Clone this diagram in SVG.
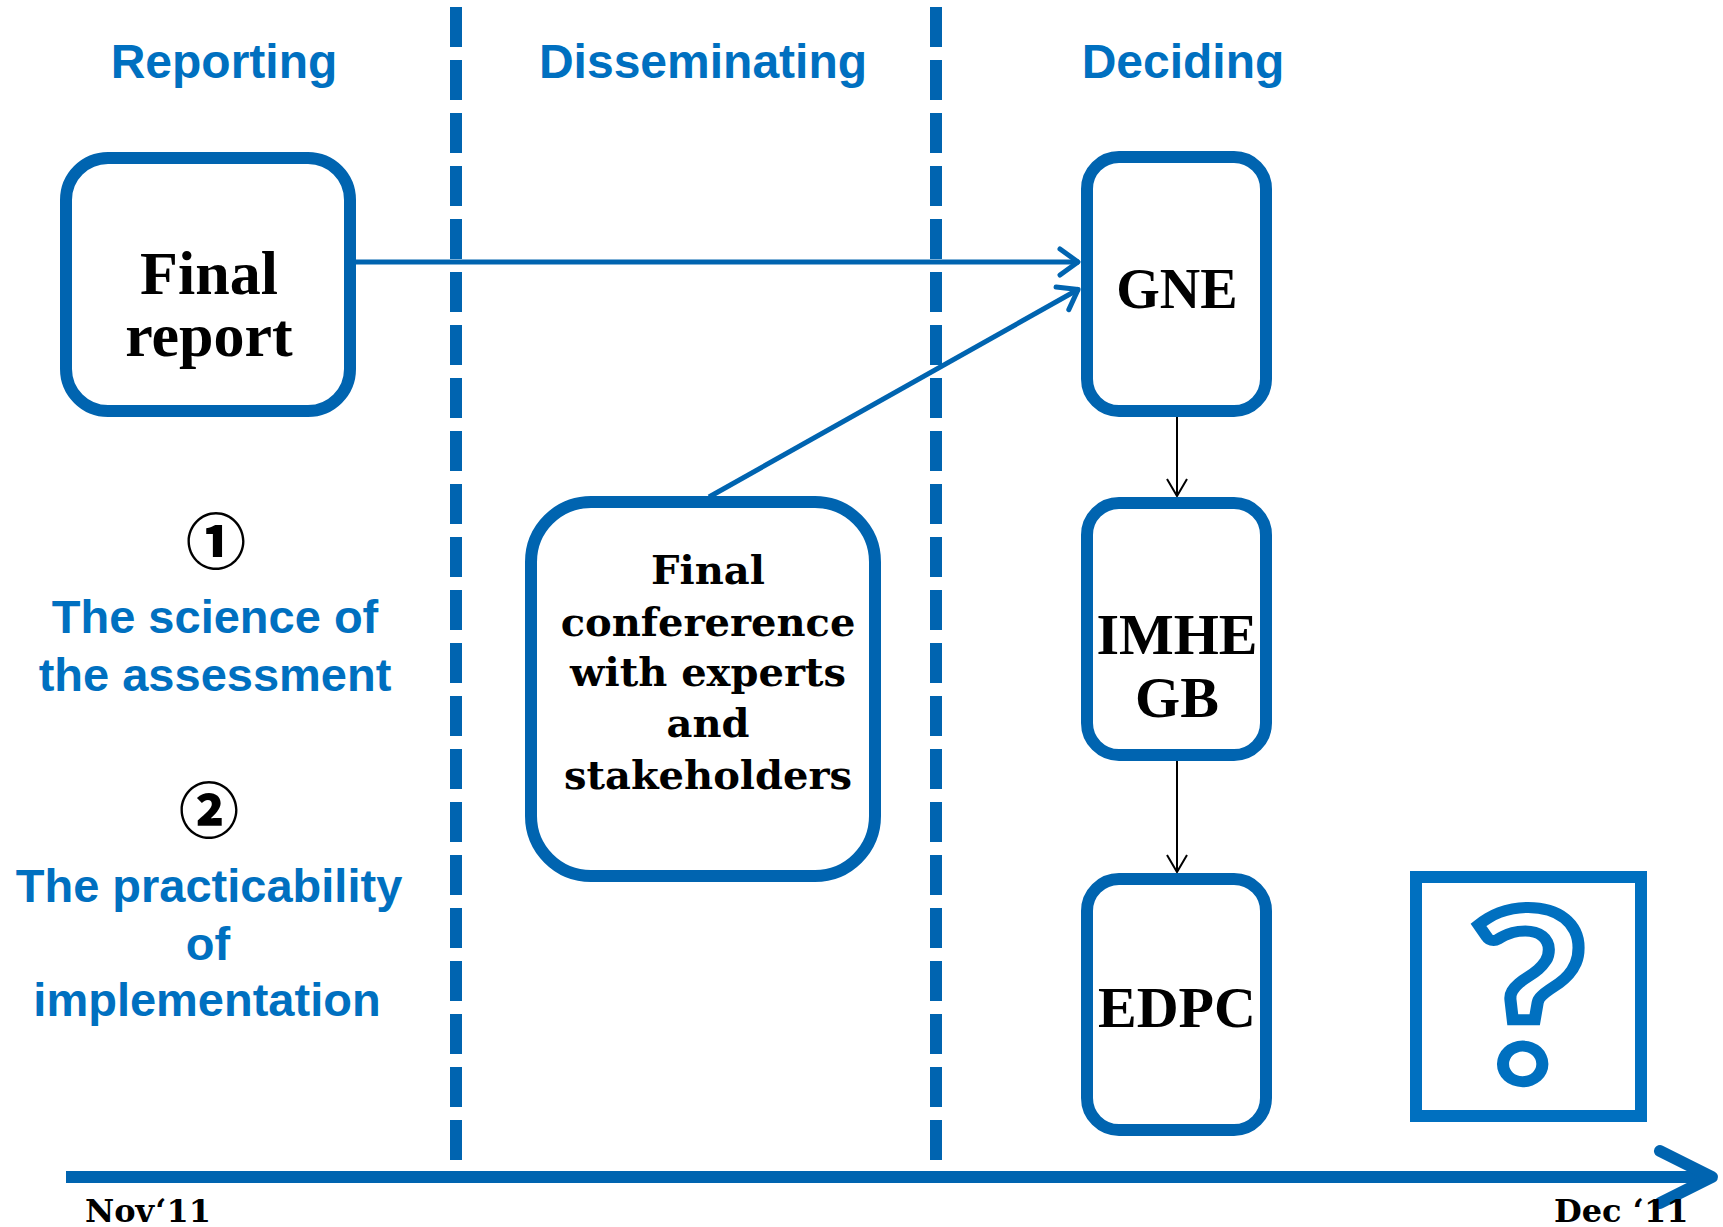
<svg xmlns="http://www.w3.org/2000/svg" width="1723" height="1227" viewBox="0 0 1723 1227">
<style>
.head{font-family:"Liberation Sans",Arial,sans-serif;font-weight:bold;font-size:48px;fill:#0070C0;text-anchor:middle}
.note{font-family:"Liberation Sans",Arial,sans-serif;font-weight:bold;font-size:47px;fill:#0070C0;text-anchor:middle}
.num{font-family:"Noto Sans CJK JP","DejaVu Sans",sans-serif;font-weight:900;font-size:60px;fill:#000;text-anchor:middle}
.box{fill:#fff;stroke:#0064B0;stroke-width:12}
.tnr{font-family:"Liberation Serif","Times New Roman",serif;font-weight:bold;fill:#000;text-anchor:middle}
.cent{font-family:"DejaVu Serif",serif;font-weight:bold;fill:#000;text-anchor:middle}
.dash{stroke:#0064B0;stroke-width:12;stroke-dasharray:40 13;fill:none}
.blue{stroke:#0064B0;stroke-width:5;fill:none}
.thin{stroke:#000;stroke-width:2;fill:none}
</style>
<defs>
<marker id="bh" markerUnits="userSpaceOnUse" markerWidth="30" markerHeight="34" refX="22" refY="15" orient="auto" viewBox="0 0 30 30">
<polyline points="3,2 21,15 3,28" fill="none" stroke="#0064B0" stroke-width="5" stroke-linecap="round" stroke-linejoin="round"/>
</marker>
<marker id="kh" markerUnits="userSpaceOnUse" markerWidth="24" markerHeight="24" refX="19" refY="12" orient="auto" viewBox="0 0 24 24">
<polyline points="2,2 19,12 2,22" fill="none" stroke="#000" stroke-width="2"/>
</marker>
</defs>
<rect width="1723" height="1227" fill="#fff"/>

<g id="headers">
<text class="head" x="224" y="78">Reporting</text>
<text class="head" x="703" y="78">Disseminating</text>
<text class="head" x="1183" y="78">Deciding</text>
</g>

<g id="separators">
<line class="dash" x1="456" y1="7" x2="456" y2="1166"/>
<line class="dash" x1="936" y1="7" x2="936" y2="1166"/>
</g>

<g id="timeline">
<line x1="66" y1="1177" x2="1708" y2="1177" stroke="#0064B0" stroke-width="12"/>
<polyline points="1660,1151 1712,1177 1660,1203" fill="none" stroke="#0064B0" stroke-width="12" stroke-linecap="round" stroke-linejoin="round"/>
<text class="cent" x="85" y="1222" font-size="32" style="text-anchor:start">Nov‘11</text>
<text class="cent" x="1554" y="1222" font-size="32" style="text-anchor:start">Dec ‘11</text>
</g>

<g id="notes">
<text class="num" x="216" y="564">①</text>
<text class="note" x="215" y="633">The science of</text>
<text class="note" x="215" y="691">the assessment</text>
<text class="num" x="209" y="833">②</text>
<text class="note" x="209" y="902">The practicability</text>
<text class="note" x="208" y="960">of</text>
<text class="note" x="207" y="1016">implementation</text>
</g>

<g id="connectors">
<line class="blue" x1="356" y1="262" x2="1079" y2="262" marker-end="url(#bh)"/>
<line class="blue" x1="709" y1="497" x2="1079" y2="289" marker-end="url(#bh)"/>
<line class="thin" x1="1177" y1="417" x2="1177" y2="496" marker-end="url(#kh)"/>
<line class="thin" x1="1177" y1="761" x2="1177" y2="872" marker-end="url(#kh)"/>
</g>

<g id="final-report">
<rect class="box" x="66" y="158" width="284" height="253" rx="42"/>
<text class="tnr" x="209" y="294" font-size="62">Final</text>
<text class="tnr" x="209" y="356" font-size="62">report</text>
</g>

<g id="final-conference">
<rect class="box" x="531" y="502" width="344" height="374" rx="60"/>
<text class="cent" x="708" y="584" font-size="40">Final</text>
<text class="cent" x="708" y="636" font-size="40">confererence</text>
<text class="cent" x="708" y="686" font-size="40">with experts</text>
<text class="cent" x="708" y="737" font-size="40">and</text>
<text class="cent" x="708" y="789" font-size="40">stakeholders</text>
</g>

<g id="gne">
<rect class="box" x="1087" y="157" width="179" height="254" rx="32"/>
<text class="tnr" x="1177" y="308" font-size="56">GNE</text>
</g>

<g id="imhe-gb">
<rect class="box" x="1087" y="503" width="179" height="252" rx="32"/>
<text class="tnr" x="1177" y="654" font-size="58">IMHE</text>
<text class="tnr" x="1177" y="717" font-size="58">GB</text>
</g>

<g id="edpc">
<rect class="box" x="1087" y="879" width="179" height="251" rx="32"/>
<text class="tnr" x="1177" y="1027" font-size="58">EDPC</text>
</g>

<g id="question">
<rect x="1416" y="877" width="225" height="239" fill="#fff" stroke="#0070C0" stroke-width="12"/>
<text transform="translate(1529,1080) scale(1.1,1)" x="0" y="0" font-family="Lato, 'Liberation Sans', sans-serif" font-weight="bold" font-size="236" text-anchor="middle" fill="#fff" stroke="#0070C0" stroke-width="11">?</text>
</g>
</svg>
